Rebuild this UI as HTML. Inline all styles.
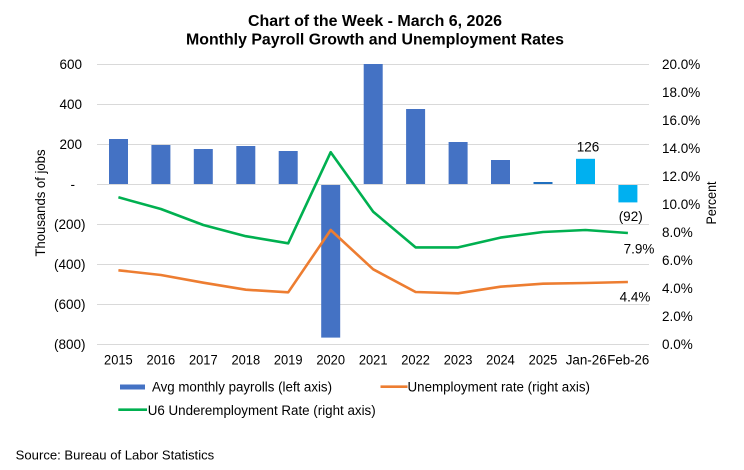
<!DOCTYPE html>
<html><head><meta charset="utf-8"><style>
html,body{margin:0;padding:0;background:#fff;}
svg{display:block;}
text{font-family:"Liberation Sans",Arial,sans-serif;fill:#000;}
</style></head><body>
<svg width="744" height="470" viewBox="0 0 744 470" xmlns="http://www.w3.org/2000/svg">
<rect width="744" height="470" fill="#fff"/>
<text x="375" y="26" font-size="15.5" font-weight="bold" text-anchor="middle" textLength="254" lengthAdjust="spacingAndGlyphs">Chart of the Week - March 6, 2026</text>
<text x="375" y="44.5" font-size="15.5" font-weight="bold" text-anchor="middle" textLength="378" lengthAdjust="spacingAndGlyphs">Monthly Payroll Growth and Unemployment Rates</text>
<g stroke="#d9d9d9" stroke-width="1">
<line x1="97" y1="64.5" x2="649" y2="64.5"/>
<line x1="97" y1="104.5" x2="649" y2="104.5"/>
<line x1="97" y1="144.5" x2="649" y2="144.5"/>
<line x1="97" y1="184.5" x2="649" y2="184.5"/>
<line x1="97" y1="224.5" x2="649" y2="224.5"/>
<line x1="97" y1="264.5" x2="649" y2="264.5"/>
<line x1="97" y1="304.5" x2="649" y2="304.5"/>
<line x1="97" y1="344.5" x2="649" y2="344.5"/>
</g>
<g fill="#4472c4">
<rect x="109" y="139" width="19" height="45"/>
<rect x="151.4" y="145" width="19" height="39"/>
<rect x="193.8" y="149" width="19" height="35"/>
<rect x="236.3" y="146" width="19" height="38"/>
<rect x="278.7" y="151" width="19" height="33"/>
<rect x="321.2" y="185" width="19" height="152.6"/>
<rect x="363.7" y="64" width="19" height="120"/>
<rect x="406.1" y="109" width="19" height="75"/>
<rect x="448.6" y="142" width="19" height="42"/>
<rect x="491" y="160" width="19" height="24"/>
</g>
<rect x="533.5" y="182" width="19" height="2" fill="#1f6fbf"/>
<rect x="576" y="158.8" width="19" height="25.2" fill="#00b0f0"/>
<rect x="618.4" y="185" width="19" height="17.4" fill="#00b0f0"/>
<polyline fill="none" stroke="#00b050" stroke-width="2.6" stroke-linejoin="round" points="118.4,197.3 160.9,209 203.3,225 245.8,236.2 288.2,243.3 330.7,152.2 373.2,211.7 415.6,247.4 458.1,247.4 500.5,237.6 543,232 585.5,230 627.9,233"/>
<polyline fill="none" stroke="#ed7d31" stroke-width="2.6" stroke-linejoin="round" points="118.4,270.3 160.9,275 203.3,282.7 245.8,289.7 288.2,292.3 330.7,230 373.2,269.3 415.6,292 458.1,293.3 500.5,286.7 543,283.7 585.5,283 627.9,282"/>
<g font-size="13.5">
<text x="588" y="151.5" text-anchor="middle">126</text>
<text x="630.7" y="221" text-anchor="middle">(92)</text>
<text x="639" y="253.5" text-anchor="middle">7.9%</text>
<text x="635" y="301.5" text-anchor="middle">4.4%</text>
</g>
<g font-size="13.5" text-anchor="end">
<text x="82" y="69">600</text>
<text x="82" y="109">400</text>
<text x="82" y="149">200</text>
<text x="75" y="189">-</text>
<text x="85.5" y="229">(200)</text>
<text x="85.5" y="269">(400)</text>
<text x="85.5" y="309">(600)</text>
<text x="85.5" y="349">(800)</text>
</g>
<g font-size="13.5" text-anchor="start">
<text x="662" y="69">20.0%</text>
<text x="662" y="97">18.0%</text>
<text x="662" y="125">16.0%</text>
<text x="662" y="153">14.0%</text>
<text x="662" y="181">12.0%</text>
<text x="662" y="209">10.0%</text>
<text x="662" y="237">8.0%</text>
<text x="662" y="265">6.0%</text>
<text x="662" y="293">4.0%</text>
<text x="662" y="321">2.0%</text>
<text x="662" y="349">0.0%</text>
</g>
<text transform="translate(45,203) rotate(-90)" font-size="13.5" text-anchor="middle" textLength="107" lengthAdjust="spacingAndGlyphs">Thousands of jobs</text>
<text transform="translate(716,203) rotate(-90)" font-size="13.5" text-anchor="middle" textLength="43" lengthAdjust="spacingAndGlyphs">Percent</text>
<g font-size="13.5" text-anchor="middle">
<text x="118.4" y="364.3" textLength="28.7" lengthAdjust="spacingAndGlyphs">2015</text>
<text x="160.9" y="364.3" textLength="28.7" lengthAdjust="spacingAndGlyphs">2016</text>
<text x="203.3" y="364.3" textLength="28.7" lengthAdjust="spacingAndGlyphs">2017</text>
<text x="245.8" y="364.3" textLength="28.7" lengthAdjust="spacingAndGlyphs">2018</text>
<text x="288.2" y="364.3" textLength="28.7" lengthAdjust="spacingAndGlyphs">2019</text>
<text x="330.7" y="364.3" textLength="28.7" lengthAdjust="spacingAndGlyphs">2020</text>
<text x="373.2" y="364.3" textLength="28.7" lengthAdjust="spacingAndGlyphs">2021</text>
<text x="415.6" y="364.3" textLength="28.7" lengthAdjust="spacingAndGlyphs">2022</text>
<text x="458.1" y="364.3" textLength="28.7" lengthAdjust="spacingAndGlyphs">2023</text>
<text x="500.5" y="364.3" textLength="28.7" lengthAdjust="spacingAndGlyphs">2024</text>
<text x="543" y="364.3" textLength="28.7" lengthAdjust="spacingAndGlyphs">2025</text>
<text x="586.2" y="364.3" textLength="41" lengthAdjust="spacingAndGlyphs">Jan-26</text>
<text x="628.3" y="364.3" textLength="42" lengthAdjust="spacingAndGlyphs">Feb-26</text>
</g>
<rect x="120" y="384.5" width="25" height="5" fill="#4472c4"/>
<text x="152" y="391.5" font-size="13.5" textLength="180" lengthAdjust="spacingAndGlyphs">Avg monthly payrolls (left axis)</text>
<line x1="380.5" y1="386.7" x2="407.5" y2="386.7" stroke="#ed7d31" stroke-width="2.6"/>
<text x="407.5" y="391.5" font-size="13.5" textLength="182.5" lengthAdjust="spacingAndGlyphs">Unemployment rate (right axis)</text>
<line x1="118.3" y1="409.7" x2="147" y2="409.7" stroke="#00b050" stroke-width="2.6"/>
<text x="147.7" y="414.8" font-size="13.5" textLength="228" lengthAdjust="spacingAndGlyphs">U6 Underemployment Rate (right axis)</text>
<text x="15.7" y="459.5" font-size="13" textLength="198.5" lengthAdjust="spacingAndGlyphs">Source: Bureau of Labor Statistics</text>
</svg>
</body></html>
